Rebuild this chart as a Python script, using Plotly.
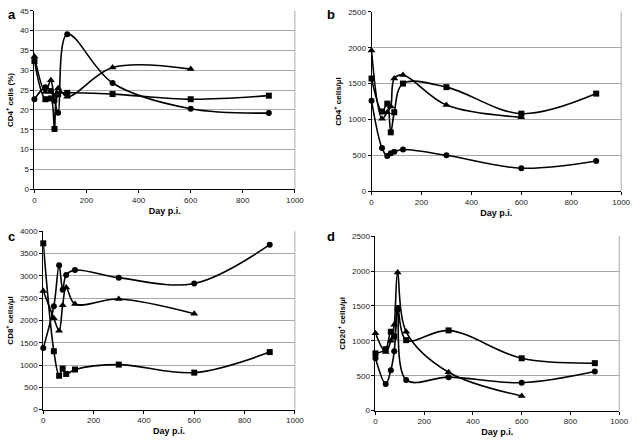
import plotly.graph_objects as go

days = [0, 42, 63, 77, 91, 126, 300, 600, 900]

# Panel a: CD4+ cells (%)
a_circle = [22.7, 25.7, 24.8, 22.3, 19.3, 39.1, 26.8, 20.3, 19.2]
a_square = [32.3, 22.7, 22.9, 15.2, 24.0, 24.3, 24.0, 22.7, 23.6]
a_triangle = [33.5, 24.5, 27.5, 23.5, 25.5, 23.3, 30.7, 30.3]

# Panel b: CD4+ cells/µl
b_circle = [1260, 600, 490, 530, 550, 580, 500, 320, 420]
b_square = [1570, 1110, 1220, 820, 1100, 1500, 1450, 1080, 1360]
b_triangle = [1960, 1010, 1100, 1180, 1570, 1620, 1200, 1030]

# Panel c: CD8+ cells/µl
c_circle = [1380, 2320, 3240, 2690, 3020, 3130, 2960, 2830, 3700]
c_square = [3730, 1310, 760, 920, 800, 900, 1010, 830, 1290]
c_triangle = [2660, 2050, 1770, 2340, 2740, 2370, 2480, 2150]

# Panel d: CD20+ cells/µl
d_circle = [750, 380, 580, 850, 1450, 440, 480, 400, 560]
d_square = [820, 880, 1130, 1060, 1470, 1010, 1150, 750, 680]
d_triangle = [1110, 840, 1000, 1230, 1980, 1130, 550, 210]

panels = [
    dict(letter="a", ytitle="CD4<sup>+</sup> cells (%)", yrange=[0, 45], dtick=5,
         data=[(a_circle, "circle"), (a_square, "square"), (a_triangle, "triangle-up")],
         xdom=[33/640, 298/640], ydom=[1-189/445, 1-7/445]),
    dict(letter="b", ytitle="CD4<sup>+</sup> cells/µl", yrange=[0, 2500], dtick=500,
         data=[(b_circle, "circle"), (b_square, "square"), (b_triangle, "triangle-up")],
         xdom=[376/640, 630/640], ydom=[1-191/445, 1-8/445]),
    dict(letter="c", ytitle="CD8<sup>+</sup> cells/µl", yrange=[0, 4000], dtick=500,
         data=[(c_circle, "circle"), (c_square, "square"), (c_triangle, "triangle-up")],
         xdom=[42/640, 298/640], ydom=[1-414/445, 1-232/445]),
    dict(letter="d", ytitle="CD20<sup>+</sup> cells/µl", yrange=[0, 2500], dtick=500,
         data=[(d_circle, "circle"), (d_square, "square"), (d_triangle, "triangle-up")],
         xdom=[380/640, 628/640], ydom=[1-415/445, 1-237/445]),
]

fig = go.Figure()
font_family = "Liberation Sans, Arial, sans-serif"
layout = dict(
    width=640, height=445, margin=dict(l=0, r=0, t=0, b=0),
    paper_bgcolor="white", plot_bgcolor="white", showlegend=False,
    font=dict(family=font_family, color="black", size=8),
)
annotations = []
shapes = []

for i, p in enumerate(panels):
    n = "" if i == 0 else str(i + 1)
    xa, ya = "x" + n, "y" + n
    for vals, sym in p["data"]:
        fig.add_trace(go.Scatter(
            x=days[:len(vals)], y=vals, xaxis=xa, yaxis=ya,
            mode="lines+markers", line=dict(color="black", width=1.6, shape="spline", smoothing=1.0),
            marker=dict(symbol=sym, size=6 if sym != "triangle-up" else 7, color="black"),
            cliponaxis=False,
        ))
    layout["xaxis" + n] = dict(
        domain=p["xdom"], anchor=ya, range=[0, 1000], dtick=200,
        showgrid=False, zeroline=False, showline=True, linecolor="black", linewidth=1,
        ticks="outside", ticklen=3, tickcolor="black",
        tickfont=dict(size=8, color="#222"),
        title=dict(text="<b>Day p.i.</b>", font=dict(size=9), standoff=3),
    )
    layout["yaxis" + n] = dict(
        domain=p["ydom"], anchor=xa, range=p["yrange"], dtick=p["dtick"],
        showgrid=True, gridcolor="#a8a8a8", gridwidth=1, zeroline=False,
        showline=True, linecolor="black", linewidth=1,
        ticks="outside", ticklen=3, tickcolor="black",
        tickfont=dict(size=8, color="#222"),
        title=dict(text="<b>" + p["ytitle"] + "</b>", font=dict(size=8), standoff=5),
    )
    shapes.append(dict(type="line", xref=xa + " domain", yref=ya + " domain",
                       x0=1, x1=1, y0=0, y1=1, line=dict(color="#a8a8a8", width=1)))
    annotations.append(dict(
        text="<b>" + p["letter"] + "</b>", xref="paper", yref="paper",
        x=(4 if i % 2 == 0 else 329) / 640, y=1 - (1 if i < 2 else 228) / 445,
        xanchor="left", yanchor="top", showarrow=False,
        font=dict(size=13, family=font_family, color="black"),
    ))

layout["annotations"] = annotations
layout["shapes"] = shapes
fig.update_layout(**layout)
fig.write_html("out.html", config={"displayModeBar": False},
               post_script="document.body.style.margin='0';")
